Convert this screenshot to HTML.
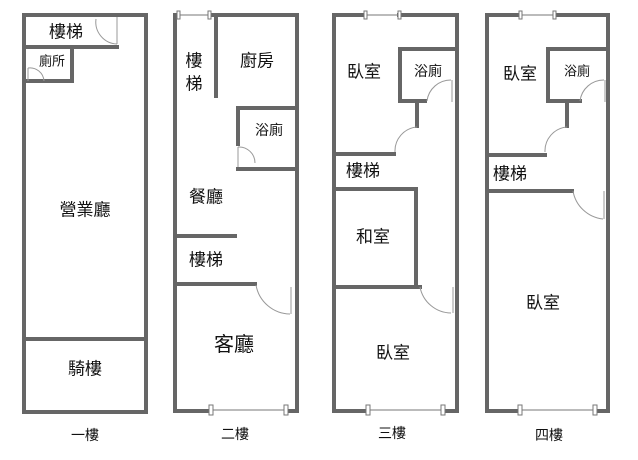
<!DOCTYPE html>
<html><head><meta charset="utf-8"><style>
html,body{margin:0;padding:0;background:#fff;}
svg{display:block;}
text{font-family:"Liberation Sans","Noto Sans CJK TC",sans-serif;fill:#111;text-anchor:middle;dominant-baseline:central;}
</style></head><body>
<svg width="638" height="460" viewBox="0 0 638 460">
<g stroke="#666" stroke-width="4" fill="none" stroke-linecap="square">
<!-- 1F -->
<path d="M24 15H146V412H24Z"/>
<path d="M24 47H117"/>
<path d="M72 47V81H24"/>
<path d="M24 339H146"/>
<!-- 2F -->
<path d="M210 15H297V411H287M211 411H175V15H178"/>
<path d="M216 15V96"/>
<path d="M297 108H238V144M238 169H295"/>
<path d="M175 236H235"/>
<path d="M175 284H255"/>
<!-- 3F -->
<path d="M399 15H457V411H443M368 411H334V15H365"/>
<path d="M425 101H400V49H457"/>
<path d="M417 101V126"/>
<path d="M334 154H394"/>
<path d="M334 189H416V287H334"/>
<path d="M416 287H420"/>
<!-- 4F -->
<path d="M555 15H608V411H595M520 411H487V15H520"/>
<path d="M580 101H548V49H608"/>
<path d="M567 101V126"/>
<path d="M487 155H545"/>
<path d="M487 191H572"/>
</g>
<!-- windows -->
<g stroke="#777" stroke-width="1" fill="#fff">
<line x1="178" y1="15" x2="210" y2="15"/><rect x="177" y="11" width="3" height="8"/><rect x="208" y="11" width="3" height="8"/>
<line x1="211" y1="410" x2="286" y2="410"/><rect x="209" y="405" width="4" height="10"/><rect x="284" y="405" width="4" height="10"/>
<line x1="365" y1="15" x2="399" y2="15"/><rect x="364" y="11" width="3" height="8"/><rect x="398" y="11" width="3" height="8"/>
<line x1="368" y1="410" x2="443" y2="410"/><rect x="366" y="405" width="4" height="10"/><rect x="441" y="405" width="4" height="10"/>
<line x1="520" y1="15" x2="555" y2="15"/><rect x="519" y="11" width="3" height="8"/><rect x="553" y="11" width="3" height="8"/>
<line x1="520" y1="410" x2="595" y2="410"/><rect x="518" y="405" width="4" height="10"/><rect x="593" y="405" width="4" height="10"/>
</g>
<!-- door arcs -->
<g stroke="#999" stroke-width="1" fill="none">
<path d="M117 44A22 22 0 0 1 96 19M117 44V17"/>
<path d="M28 68A14 14 0 0 1 44 81M28 68V81"/>
<path d="M238 147A16 16 0 0 1 255 163M238 147V167"/>
<path d="M256 285A35 35 0 0 0 290 314M291 287V314"/>
<path d="M420 287A32 32 0 0 0 451 313M453 287V313"/>
<path d="M427 101A24 24 0 0 1 451 80M452 80V102"/>
<path d="M395 152A24 24 0 0 1 417 127"/>
<path d="M580 101A24 24 0 0 1 604 80M605 80V102"/>
<path d="M545 152A24 24 0 0 1 567 127"/>
<path d="M573 191A34 34 0 0 0 603 219M604 191V219"/>
</g>
<g font-size="17">
<text x="66" y="32">樓梯</text>
<text x="52" y="61" font-size="13">廁所</text>
<text x="85" y="210">營業廳</text>
<text x="85" y="369">騎樓</text>
<text x="85" y="435" font-size="14">一樓</text>
<text x="194" y="61">樓</text><text x="194" y="84">梯</text>
<text x="257" y="61">廚房</text>
<text x="269" y="130" font-size="14">浴廁</text>
<text x="206" y="197">餐廳</text>
<text x="206" y="260">樓梯</text>
<text x="234" y="345" font-size="20">客廳</text>
<text x="235" y="434" font-size="14">二樓</text>
<text x="364" y="72">臥室</text>
<text x="428" y="71" font-size="14">浴廁</text>
<text x="363" y="171">樓梯</text>
<text x="373" y="237">和室</text>
<text x="393" y="353">臥室</text>
<text x="392" y="433" font-size="14">三樓</text>
<text x="520" y="74">臥室</text>
<text x="577" y="71" font-size="13">浴廁</text>
<text x="510" y="174">樓梯</text>
<text x="543" y="303">臥室</text>
<text x="549" y="435" font-size="14">四樓</text>
</g>
</svg>
</body></html>
